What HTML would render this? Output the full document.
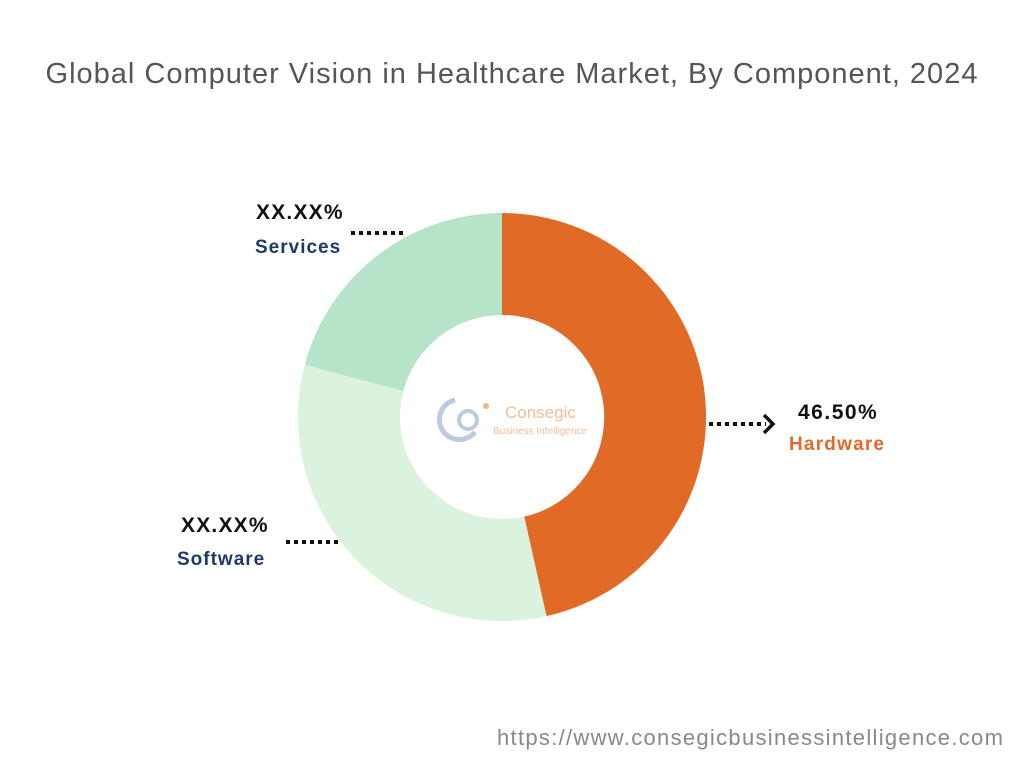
<!DOCTYPE html>
<html><head><meta charset="utf-8"><style>
body{margin:0;width:1024px;height:768px;background:#fff;font-family:"Liberation Sans",sans-serif;overflow:hidden;position:relative}
.t{position:absolute;white-space:nowrap}
</style></head><body>
<div class="t" style="left:0;width:1024px;top:58px;text-align:center;font-size:29px;letter-spacing:1px;color:#555">Global Computer Vision in Healthcare Market, By Component, 2024</div>
<svg width="1024" height="768" style="position:absolute;left:0;top:0">
<path d="M502,213 A204,204 0 0 1 546.5,616.1 L524.2,516.6 A102,102 0 0 0 502,315 Z" fill="#E26A27"/>
<path d="M546.5,616.1 A204,204 0 0 1 304.8,364.8 L403.4,391.0 A102,102 0 0 0 524.2,516.6 Z" fill="#DAF2DE"/>
<path d="M304.8,364.8 A204,204 0 0 1 502,213 L502,315 A102,102 0 0 0 403.4,391.0 Z" fill="#B5E4C8"/>
<line x1="351" y1="233" x2="403" y2="233" stroke="#111" stroke-width="4" stroke-dasharray="4,4"/>
<line x1="286" y1="542" x2="340" y2="542" stroke="#111" stroke-width="4" stroke-dasharray="4,4"/>
<line x1="709" y1="424" x2="766" y2="424" stroke="#111" stroke-width="4" stroke-dasharray="4,4"/>
<path d="M764,415 L773,424 L764,433" fill="none" stroke="#111" stroke-width="3.5"/>
<path d="M455,400 A20,20 0 1 0 475,432" fill="none" stroke="#9FB3D6" stroke-width="5" opacity="0.7"/>
<circle cx="468" cy="420" r="9" fill="none" stroke="#9FB3D6" stroke-width="4" opacity="0.7"/>
<circle cx="486" cy="406" r="3" fill="#F3B58E"/>
<text x="505" y="418" font-family="Liberation Sans" font-size="17" fill="#F3B58E" opacity="0.9">Consegic</text>
<text x="493" y="434" font-family="Liberation Sans" font-size="10" fill="#F3B58E" opacity="0.9">Business Intelligence</text>
</svg>
<div class="t" style="left:256px;top:201px;font-size:21px;letter-spacing:1.2px;font-weight:bold;color:#111">XX.XX%</div>
<div class="t" style="left:255px;top:237px;font-size:19px;letter-spacing:1px;font-weight:bold;color:#1D3A66">Services</div>
<div class="t" style="left:181px;top:514px;font-size:21px;letter-spacing:1.2px;font-weight:bold;color:#111">XX.XX%</div>
<div class="t" style="left:177px;top:549px;font-size:19px;letter-spacing:1px;font-weight:bold;color:#1D3A66">Software</div>
<div class="t" style="left:798px;top:401px;font-size:21px;letter-spacing:1.5px;font-weight:bold;color:#111">46.50%</div>
<div class="t" style="left:789px;top:434px;font-size:19px;letter-spacing:1.2px;font-weight:bold;color:#E26A27">Hardware</div>
<div class="t" style="left:497px;top:725px;font-size:22px;letter-spacing:1.3px;color:#888">https://www.consegicbusinessintelligence.com</div>
</body></html>
